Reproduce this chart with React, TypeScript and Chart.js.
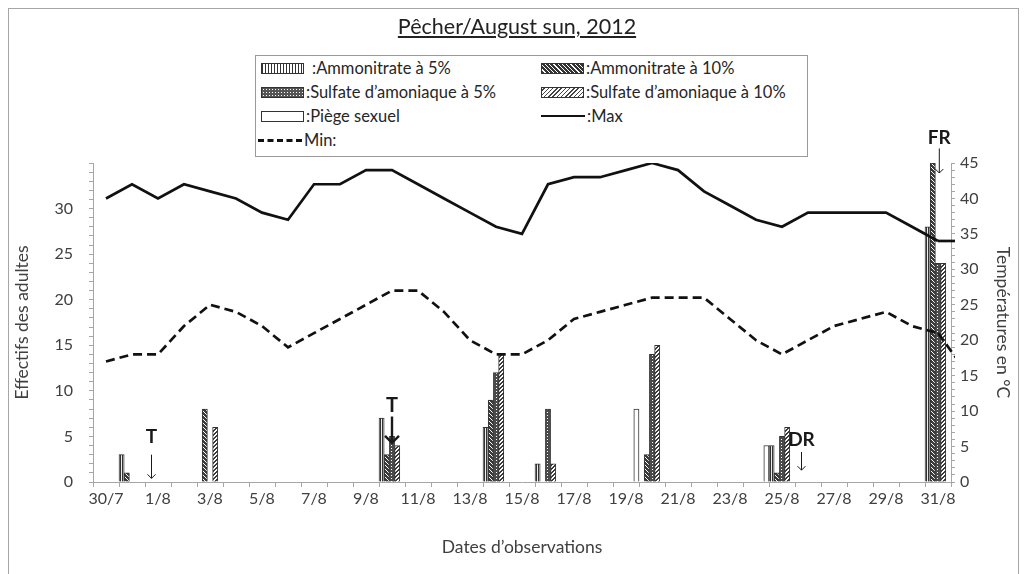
import React, { useEffect, useRef } from 'react';
import { Chart, registerables } from 'chart.js';

Chart.register(...registerables);

const N = null;

// Categories (days of observation)
const dates = [
  '30/7', '31/7', '1/8', '2/8', '3/8', '4/8', '5/8', '6/8', '7/8', '8/8', '9/8',
  '10/8', '11/8', '12/8', '13/8', '14/8', '15/8', '16/8', '17/8', '18/8', '19/8',
  '20/8', '21/8', '22/8', '23/8', '24/8', '25/8', '26/8', '27/8', '28/8', '29/8',
  '30/8', '31/8',
];

// Adult counts per treatment
const ammo5 = [N, 3, N, N, N, N, N, N, N, N, N, 7, N, N, N, 6, N, 2, N, N, N, N, N, N, N, N, 4, N, N, N, N, N, 28];
const ammo10 = [N, 1, N, N, 8, N, N, N, N, N, N, 3, N, N, N, 9, N, N, N, N, N, 3, N, N, N, N, 1, N, N, N, N, N, 35];
const sulf5 = [N, N, N, N, N, N, N, N, N, N, N, 5, N, N, N, 12, N, 8, N, N, N, 14, N, N, N, N, 5, N, N, N, N, N, 24];
const sulf10 = [N, N, N, N, 6, N, N, N, N, N, N, 4, N, N, N, 14, N, 2, N, N, N, 15, N, N, N, N, 6, N, N, N, N, N, 24];
const piege = [N, N, N, N, N, N, N, N, N, N, N, N, N, N, N, N, N, N, N, N, 8, N, N, N, N, 4, N, N, N, N, N, N, N];

// Temperatures (°C)
const tMax = [40, 42, 40, 42, 41, 40, 38, 37, 42, 42, 44, 44, 42, 40, 38, 36, 35, 42, 43, 43, 44, 45, 44, 41, 39, 37, 36, 38, 38, 38, 38, 36, 34];
const tMin = [17, 18, 18, 22, 25, 24, 22, 19, 21, 23, 25, 27, 27, 24, 20, 18, 18, 20, 23, 24, 25, 26, 26, 26, 23, 20, 18, 20, 22, 23, 24, 22, 21];
// Following day (1/9), only its beginning shows past the axis
const nextMax = 34;
const nextMin = 16;

// Axis ticks
const leftTicks = [0, 5, 10, 15, 20, 25, 30];
const rightTicks = [0, 5, 10, 15, 20, 25, 30, 35, 40, 45];

// Annotations (category position, left-axis levels)
const annotLabels = ['T', 'T', 'DR', 'FR'];
const annotAt = [1.75, 11, 26.75, 32.05];
const annotTextLevel = [5, 8.4, 4.6, 37.8];
const annotArrowFrom = [3.0, 7.2, 3.3, 36.6];
const annotArrowTo = [0.4, 4.3, 1.3, 33.9];
const annotStyle = [
  { size: 19, lw: 1, head: 4 },
  { size: 20, lw: 2.4, head: 7 },
  { size: 19, lw: 1, head: 4 },
  { size: 19, lw: 1, head: 4 },
];

const FONT = 'Lato, "Open Sans", sans-serif';
const LINE_W = 2.7;

function makePattern(kind: string): CanvasPattern | string {
  const c = document.createElement('canvas');
  const ctx = c.getContext('2d');
  if (!ctx) return '#666';
  if (kind === 'a5') {
    c.width = 2; c.height = 2;
    ctx.fillStyle = '#eee'; ctx.fillRect(0, 0, 2, 2);
    ctx.fillStyle = '#333'; ctx.fillRect(0, 0, 1, 2);
  } else if (kind === 'a10') {
    c.width = 4; c.height = 4;
    ctx.fillStyle = '#3a3a3a'; ctx.fillRect(0, 0, 4, 4);
    ctx.fillStyle = '#fff';
    for (let i = 0; i < 4; i++) ctx.fillRect(i, i, 1, 1);
  } else if (kind === 's5') {
    c.width = 3; c.height = 3;
    ctx.fillStyle = '#4a4a4a'; ctx.fillRect(0, 0, 3, 3);
    ctx.fillStyle = '#fff'; ctx.fillRect(1, 1, 1, 1);
  } else if (kind === 's10') {
    c.width = 4; c.height = 4;
    ctx.fillStyle = '#fff'; ctx.fillRect(0, 0, 4, 4);
    ctx.fillStyle = '#3a3a3a';
    for (let i = 0; i < 4; i++) { ctx.fillRect(3 - i, i, 1, 1); ctx.fillRect((4 - i) % 4, i, 1, 1); }
  } else {
    c.width = 2; c.height = 2;
    ctx.fillStyle = '#fff'; ctx.fillRect(0, 0, 2, 2);
  }
  return ctx.createPattern(c, 'repeat') || '#666';
}

// Draws the start of the next day's segment (cut just past the right axis) and the annotations
const extrasPlugin = {
  id: 'extras',
  afterDatasetsDraw(chart: any) {
    const ctx = chart.ctx;
    const xs = chart.scales.x;
    const ys = chart.scales.y;
    const y1s = chart.scales.y1;
    const area = chart.chartArea;
    const last = dates.length - 1;

    ctx.save();
    ctx.beginPath();
    ctx.rect(area.left, area.top - 5, area.right - area.left + 4, area.bottom - area.top + 5);
    ctx.clip();
    ctx.strokeStyle = '#111';
    ctx.lineWidth = LINE_W;
    ctx.lineJoin = 'round';
    const tails: [number, number, number[]][] = [[tMax[last], nextMax, []], [tMin[last], nextMin, [9, 5]]];
    tails.forEach(([a, b, dash]) => {
      ctx.setLineDash(dash);
      ctx.beginPath();
      ctx.moveTo(xs.getPixelForValue(last), y1s.getPixelForValue(a));
      ctx.lineTo(xs.getPixelForValue(last + 1), y1s.getPixelForValue(b));
      ctx.stroke();
    });
    ctx.restore();

    ctx.save();
    annotLabels.forEach((lab, i) => {
      const st = annotStyle[i];
      const px = xs.getPixelForValue(annotAt[i]);
      const ty = ys.getPixelForValue(annotTextLevel[i]);
      ctx.fillStyle = '#1a1a1a';
      ctx.font = `bold ${st.size}px ${FONT}`;
      ctx.textAlign = 'center';
      ctx.textBaseline = 'middle';
      ctx.fillText(lab, px, ty);
      const y0 = ys.getPixelForValue(annotArrowFrom[i]);
      const yy = ys.getPixelForValue(annotArrowTo[i]);
      ctx.strokeStyle = '#1a1a1a';
      ctx.lineWidth = st.lw;
      ctx.beginPath();
      ctx.moveTo(px, y0);
      ctx.lineTo(px, yy);
      ctx.moveTo(px - st.head, yy - st.head);
      ctx.lineTo(px, yy);
      ctx.lineTo(px + st.head, yy - st.head);
      ctx.stroke();
    });
    ctx.restore();
  },
};

const swatch: Record<string, React.CSSProperties> = {
  a5: { background: 'repeating-linear-gradient(90deg, #333 0 1px, #fff 1px 3px)' },
  a10: { background: 'repeating-linear-gradient(45deg, #333 0 2px, #fff 2px 3px)' },
  s5: { background: 'radial-gradient(circle, #fff 35%, transparent 40%) 0 0/3px 3px, #555' },
  s10: { background: 'repeating-linear-gradient(-45deg, #444 0 1px, #fff 1px 3px)' },
  p: { background: '#fff' },
};

function Swatch({ kind }: { kind: string }) {
  return (
    <span style={{ display: 'inline-block', width: 41, height: 9, border: '1px solid #333', verticalAlign: 'middle', flex: '0 0 auto', ...swatch[kind] }} />
  );
}

function LineSw({ dashed }: { dashed?: boolean }) {
  return (
    <span style={{ display: 'inline-block', width: 44, height: 0, borderTop: dashed ? '3px dashed #111' : '2.5px solid #111', verticalAlign: 'middle', flex: '0 0 auto' }} />
  );
}

export default function App() {
  const ref = useRef<HTMLCanvasElement | null>(null);

  useEffect(() => {
    const canvas = ref.current;
    if (!canvas) return;
    const pats = {
      a5: makePattern('a5'),
      a10: makePattern('a10'),
      s5: makePattern('s5'),
      s10: makePattern('s10'),
      p: makePattern('p'),
    };
    const barBase = { type: 'bar' as const, yAxisID: 'y', borderColor: '#333', borderWidth: 1, order: 1 };
    const tickFont = { family: FONT, size: 16 };
    const titleFont = { family: FONT, size: 17.5 };
    const chart = new Chart(canvas, {
      type: 'bar',
      data: {
        labels: dates,
        datasets: [
          { type: 'line', label: ':Max', data: tMax, yAxisID: 'y1', borderColor: '#111', borderWidth: LINE_W, pointRadius: 0, tension: 0, order: 0 } as any,
          { type: 'line', label: 'Min:', data: tMin, yAxisID: 'y1', borderColor: '#111', borderWidth: LINE_W, borderDash: [9, 5], pointRadius: 0, tension: 0, order: 0 } as any,
          { ...barBase, label: ':Ammonitrate à 5%', data: ammo5, backgroundColor: pats.a5 },
          { ...barBase, label: ':Ammonitrate à 10%', data: ammo10, backgroundColor: pats.a10 },
          { ...barBase, label: ':Sulfate d’amoniaque à 5%', data: sulf5, backgroundColor: pats.s5 },
          { ...barBase, label: ':Sulfate d’amoniaque à 10%', data: sulf10, backgroundColor: pats.s10 },
          { ...barBase, label: ':Piège sexuel', data: piege, backgroundColor: pats.p },
        ],
      },
      options: {
        responsive: false,
        animation: false,
        layout: { padding: { top: 163, left: 0, right: 0, bottom: 0 } },
        plugins: { legend: { display: false }, tooltip: { enabled: false }, title: { display: false } },
        datasets: { bar: { categoryPercentage: 1, barPercentage: 1 } },
        scales: {
          x: {
            offset: true,
            grid: { offset: true, drawOnChartArea: false, tickLength: 5, color: '#a6a6a6' },
            border: { color: '#a6a6a6' },
            ticks: {
              autoSkip: false, maxRotation: 0, minRotation: 0, padding: 2,
              color: '#404040', font: tickFont,
              callback: (_v: any, i: number) => (i % 2 === 0 ? dates[i] : ''),
            },
            title: { display: true, text: 'Dates d’observations', color: '#404040', font: titleFont, padding: { top: 0, bottom: 16 } },
            afterFit: (s: any) => { s.height = 92; },
          },
          y: {
            position: 'left', min: 0, max: 35,
            grid: { drawOnChartArea: false, tickLength: 4, color: '#a6a6a6' },
            border: { color: '#a6a6a6' },
            ticks: {
              stepSize: 1, autoSkip: false, padding: 16,
              color: '#404040', font: tickFont,
              callback: (v: any) => (leftTicks.includes(v) ? String(v) : ''),
            },
            title: { display: true, text: 'Effectifs des adultes', color: '#404040', font: titleFont, padding: { top: 12, bottom: 0 } },
            afterFit: (s: any) => { s.width = 93; },
          },
          y1: {
            position: 'right', min: 0, max: 45,
            grid: { drawOnChartArea: false, tickLength: 4, color: '#a6a6a6' },
            border: { color: '#a6a6a6' },
            ticks: {
              stepSize: 1, autoSkip: false, padding: 5,
              color: '#404040', font: tickFont,
              callback: (v: any) => (rightTicks.includes(v) ? String(v) : ''),
            },
            title: { display: true, text: 'Températures en °C', color: '#404040', font: titleFont, padding: { top: 14, bottom: 0 } },
            afterFit: (s: any) => { s.width = 76; },
          },
        },
      } as any,
      plugins: [extrasPlugin],
    });
    return () => chart.destroy();
  }, []);

  const txt: React.CSSProperties = { fontFamily: FONT, fontSize: 16.5, color: '#262626', whiteSpace: 'nowrap' };
  const cell = (left: number, top: number): React.CSSProperties => ({ position: 'absolute', left, top, height: 22, display: 'flex', alignItems: 'center', ...txt });

  return (
    <div style={{ position: 'fixed', left: 0, top: 0, width: 1027, height: 574, overflow: 'hidden', background: '#fff' }}>
      <div style={{ position: 'absolute', left: 8, top: 8, width: 1011, height: 600, border: '1px solid #a6a6a6', boxSizing: 'border-box' }} />
      <canvas ref={ref} width={1027} height={574} style={{ position: 'absolute', left: 0, top: 0, width: 1027, height: 574 }} />
      <div style={{ position: 'absolute', left: 0, width: 1034, top: 13, textAlign: 'center', fontFamily: FONT, fontSize: 21.5, color: '#222', textDecoration: 'underline' }}>
        Pêcher/August sun, 2012
      </div>
      <div style={{ position: 'absolute', left: 255, top: 55, width: 553, height: 102, border: '1px solid #9a9a9a', boxSizing: 'border-box', background: '#fff' }}>
        <div style={cell(5, 1)}><Swatch kind="a5" /><span style={{ marginLeft: 8 }}>:Ammonitrate à 5%</span></div>
        <div style={cell(285, 1)}><Swatch kind="a10" /><span style={{ marginLeft: 2 }}>:Ammonitrate à 10%</span></div>
        <div style={cell(5, 25)}><Swatch kind="s5" /><span style={{ marginLeft: 2 }}>:Sulfate d’amoniaque à 5%</span></div>
        <div style={cell(285, 25)}><Swatch kind="s10" /><span style={{ marginLeft: 2 }}>:Sulfate d’amoniaque à 10%</span></div>
        <div style={cell(5, 49)}><Swatch kind="p" /><span style={{ marginLeft: 2 }}>:Piège sexuel</span></div>
        <div style={cell(285, 49)}><LineSw /><span style={{ marginLeft: 2 }}>:Max</span></div>
        <div style={cell(2, 73)}><LineSw dashed /><span style={{ marginLeft: 2 }}>Min:</span></div>
      </div>
    </div>
  );
}
